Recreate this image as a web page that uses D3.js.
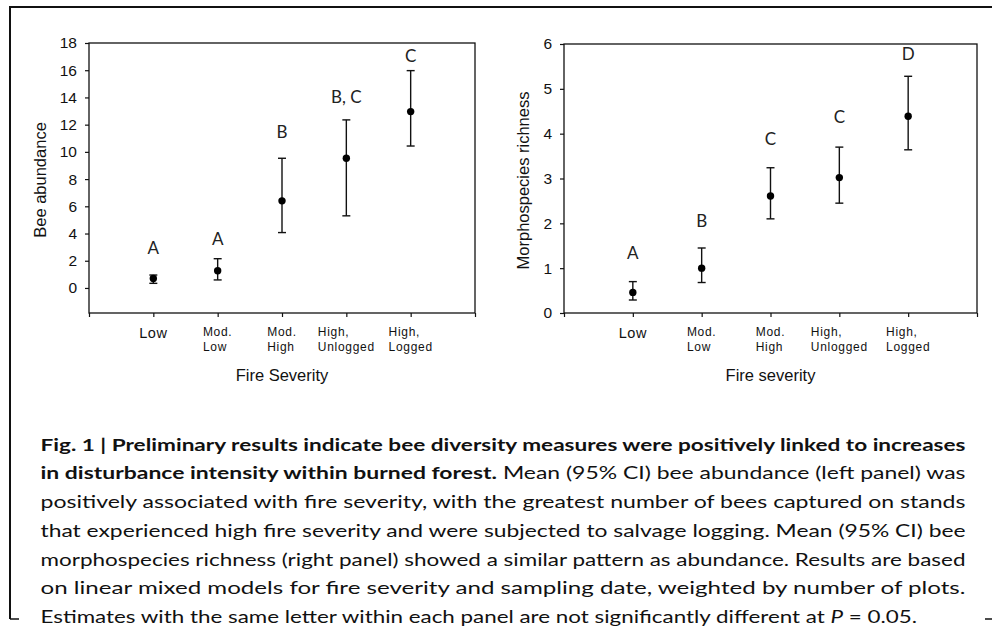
<!DOCTYPE html>
<html>
<head>
<meta charset="utf-8">
<script src="https://cdn.jsdelivr.net/npm/d3@7"></script>
<style>
  html, body { margin: 0; padding: 0; background: #fff; }
  svg { display: block; }
</style>
</head>
<body>
<svg id="chart" width="992" height="627"></svg>
<script>
// ---------- data ----------
const categoryLines = [["Low"], ["Mod.", "Low"], ["Mod.", "High"], ["High,", "Unlogged"], ["High,", "Logged"]];
const categoryPos = [1, 2, 3, 4, 5];

const abundMean  = [0.70, 1.27, 6.40, 9.53, 12.96];
const abundLower = [0.34, 0.59, 4.07, 5.30, 10.43];
const abundUpper = [0.95, 2.15, 9.53, 12.35, 15.97];
const abundLetters = ["A", "A", "B", "B, C", "C"];
const abundLetterY = [3.0, 3.67, 11.5, 14.1, 17.1];
const abundTicks = [0, 2, 4, 6, 8, 10, 12, 14, 16, 18];

const richMean  = [0.46, 1.00, 2.61, 3.02, 4.39];
const richLower = [0.29, 0.68, 2.10, 2.45, 3.64];
const richUpper = [0.70, 1.45, 3.24, 3.70, 5.28];
const richLetters = ["A", "B", "C", "C", "D"];
const richLetterY = [1.35, 2.07, 3.9, 4.39, 5.78];
const richTicks = [0, 1, 2, 3, 4, 5, 6];

const captionLines = [
  [{t: "Fig. 1 | Preliminary results indicate bee diversity measures were positively linked to increases", b: true}],
  [{t: "in disturbance intensity within burned forest.", b: true}, {t: " Mean (95% CI) bee abundance (left panel) was"}],
  [{t: "positively associated with fire severity, with the greatest number of bees captured on stands"}],
  [{t: "that experienced high fire severity and were subjected to salvage logging. Mean (95% CI) bee"}],
  [{t: "morphospecies richness (right panel) showed a similar pattern as abundance. Results are based"}],
  [{t: "on linear mixed models for fire severity and sampling date, weighted by number of plots."}],
  [{t: "Estimates with the same letter within each panel are not significantly different at "}, {t: "P", i: true}, {t: " = 0.05."}]
];

// ---------- drawing ----------
const svg = d3.select("#chart");
const AX_FONT = "'Liberation Sans', Arial, sans-serif";
const LETTER_FONT = "Lato, 'Open Sans', sans-serif";

// outer frame
svg.append("path")
  .attr("d", "M10,619 L10,7 L992,7")
  .attr("fill", "none").attr("stroke", "#111").attr("stroke-width", 2);
svg.append("line").attr("x1", 10).attr("x2", 19).attr("y1", 619).attr("y2", 619)
  .attr("stroke", "#111").attr("stroke-width", 1.5);
svg.append("line").attr("x1", 985).attr("x2", 992).attr("y1", 619).attr("y2", 619)
  .attr("stroke", "#111").attr("stroke-width", 1.5);

function panel(cfg) {
  const g = svg.append("g");
  const x = d3.scaleLinear().domain([0, 6]).range([cfg.left, cfg.right]);
  const y = d3.scaleLinear().domain(cfg.yDomain).range([cfg.bottom, cfg.top]);

  // box
  g.append("rect")
    .attr("x", cfg.left).attr("y", cfg.top)
    .attr("width", cfg.right - cfg.left).attr("height", cfg.bottom - cfg.top)
    .attr("fill", "none").attr("stroke", "#111").attr("stroke-width", 1.3);

  // y axis
  const ya = g.append("g").attr("transform", `translate(${cfg.left},0)`)
    .call(d3.axisLeft(y).tickValues(cfg.ticks).tickFormat(d3.format("d"))
      .tickSize(4).tickSizeOuter(0).tickPadding(8));
  ya.select(".domain").remove();
  ya.selectAll("line").attr("stroke", "#111").attr("stroke-width", 1.2);
  ya.selectAll("text").attr("font-family", AX_FONT).attr("font-size", 15.5).attr("fill", "#111");

  // x axis ticks
  const xa = g.append("g").attr("transform", `translate(0,${cfg.bottom})`)
    .call(d3.axisBottom(x).tickValues([0, 1, 2, 3, 4, 5, 6]).tickSize(4).tickSizeOuter(0).tickFormat(""));
  xa.select(".domain").remove();
  xa.selectAll("line").attr("stroke", "#111").attr("stroke-width", 1.2);

  // category labels
  categoryLines.forEach((lines, i) => {
    const cx = x(categoryPos[i]);
    if (lines.length === 1) {
      g.append("text").attr("x", cx).attr("y", cfg.bottom + 20)
        .attr("dominant-baseline", "central").attr("text-anchor", "middle")
        .attr("font-family", AX_FONT).attr("font-size", 14.5).attr("letter-spacing", 0.6)
        .attr("fill", "#111").text(lines[0]);
    } else {
      const tg = g.append("g");
      const texts = lines.map((s, k) => tg.append("text")
        .attr("x", 0).attr("y", cfg.bottom + 19 + k * 14.5)
        .attr("dominant-baseline", "central")
        .attr("font-family", AX_FONT).attr("font-size", 12).attr("letter-spacing", 0.7)
        .attr("fill", "#111").text(s));
      const w = d3.max(texts, t => t.node().getComputedTextLength());
      tg.attr("transform", `translate(${cx - w / 2},0)`);
    }
  });

  // axis titles
  g.append("text")
    .attr("transform", `translate(${cfg.yLabelX},${(cfg.top + cfg.bottom) / 2 + 2}) rotate(-90)`)
    .attr("text-anchor", "middle").attr("dominant-baseline", "central")
    .attr("font-family", AX_FONT).attr("font-size", 16.5).attr("fill", "#111")
    .text(cfg.yLabel);
  g.append("text")
    .attr("x", (cfg.left + cfg.right) / 2).attr("y", 375)
    .attr("text-anchor", "middle").attr("dominant-baseline", "central")
    .attr("font-family", AX_FONT).attr("font-size", 16.5).attr("fill", "#111")
    .text(cfg.xLabel);

  // error bars
  const idx = d3.range(cfg.mean.length);
  const eb = g.append("g").attr("stroke", "#111").attr("stroke-width", 1.4);
  eb.selectAll("line.v").data(idx).join("line").attr("class", "v")
    .attr("x1", i => x(categoryPos[i])).attr("x2", i => x(categoryPos[i]))
    .attr("y1", i => y(cfg.lower[i])).attr("y2", i => y(cfg.upper[i]));
  eb.selectAll("line.cu").data(idx).join("line").attr("class", "cu")
    .attr("x1", i => x(categoryPos[i]) - 4).attr("x2", i => x(categoryPos[i]) + 4)
    .attr("y1", i => y(cfg.upper[i])).attr("y2", i => y(cfg.upper[i]));
  eb.selectAll("line.cl").data(idx).join("line").attr("class", "cl")
    .attr("x1", i => x(categoryPos[i]) - 4).attr("x2", i => x(categoryPos[i]) + 4)
    .attr("y1", i => y(cfg.lower[i])).attr("y2", i => y(cfg.lower[i]));

  g.selectAll("circle.m").data(idx).join("circle").attr("class", "m")
    .attr("cx", i => x(categoryPos[i])).attr("cy", i => y(cfg.mean[i]))
    .attr("r", 3.7).attr("fill", "#000");

  // significance letters
  g.selectAll("text.let").data(idx).join("text").attr("class", "let")
    .attr("x", i => x(categoryPos[i])).attr("y", i => y(cfg.letterY[i]))
    .attr("text-anchor", "middle").attr("dominant-baseline", "central")
    .attr("font-family", LETTER_FONT).attr("font-size", 17).attr("fill", "#222")
    .text(i => cfg.letters[i]);
}

panel({
  left: 89, right: 475, top: 43, bottom: 313,
  yDomain: [-1.84, 18], ticks: abundTicks,
  mean: abundMean, lower: abundLower, upper: abundUpper,
  letters: abundLetters, letterY: abundLetterY,
  yLabel: "Bee abundance", xLabel: "Fire Severity", yLabelX: 40
});

panel({
  left: 564, right: 977, top: 44, bottom: 313,
  yDomain: [0, 6], ticks: richTicks,
  mean: richMean, lower: richLower, upper: richUpper,
  letters: richLetters, letterY: richLetterY,
  yLabel: "Morphospecies richness", xLabel: "Fire severity", yLabelX: 523
});

// caption
const capX = 40.5, capRight = 965.5, capY0 = 450.5, capDY = 28.75;
captionLines.forEach((segs, li) => {
  const t = svg.append("text")
    .attr("x", capX).attr("y", capY0 + li * capDY)
    .attr("font-family", "Lato, 'Open Sans', sans-serif").attr("font-size", 17.5)
    .attr("fill", "#111");
  segs.forEach(s => {
    const sp = t.append("tspan").text(s.t);
    if (s.b) sp.attr("font-weight", "bold");
    if (s.i) sp.attr("font-style", "italic");
  });
  const target = li < captionLines.length - 1 ? capRight - capX : 917 - capX;
  t.attr("textLength", target).attr("lengthAdjust", "spacingAndGlyphs");
});
</script>
</body>
</html>
